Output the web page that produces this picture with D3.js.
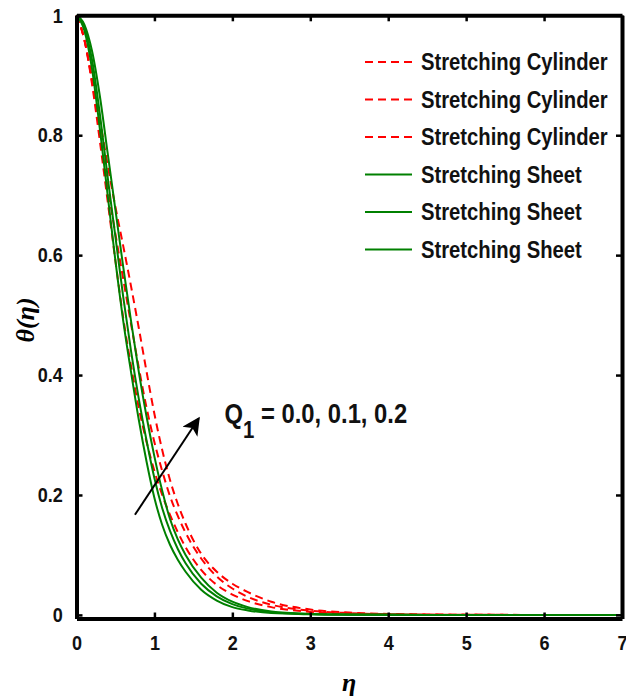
<!DOCTYPE html>
<html>
<head>
<meta charset="utf-8">
<script src="https://cdn.jsdelivr.net/npm/d3@7"></script>
<style>
  body { margin: 0; background: #fff; }
  svg { display: block; }
  .bold { font-family: 'Liberation Sans', Arial, sans-serif; font-weight: bold; }
  .greek { font-family: 'Liberation Serif', 'DejaVu Serif', serif; font-style: italic; font-weight: bold; }
</style>
</head>
<body>
<svg id="chart"></svg>
<script>
var width = 626, height = 697;

// eta grid shared by all curves
var eta = [0, 0.1, 0.2, 0.3, 0.4, 0.5, 0.6, 0.7, 0.8, 0.9, 1.0, 1.1, 1.2, 1.3, 1.4,
           1.6, 1.8, 2.0, 2.2, 2.5, 3.0, 3.5, 4.0, 5.0, 6.0, 7.0];

// stretching cylinder, Q1 = 0.0, 0.1, 0.2
var cyl1 = [1, 0.96, 0.885, 0.79, 0.69, 0.59, 0.495, 0.415, 0.345, 0.288, 0.24, 0.2, 0.167, 0.138, 0.113,
            0.075, 0.05, 0.034, 0.023, 0.013, 0.005, 0.002, 0.0008, 0.0001, 0, 0];
var cyl2 = [1, 0.96, 0.89, 0.805, 0.715, 0.635, 0.56, 0.485, 0.412, 0.345, 0.288, 0.24, 0.198, 0.165, 0.137,
            0.094, 0.064, 0.044, 0.03, 0.017, 0.007, 0.003, 0.0012, 0.0002, 0, 0];
var cyl3 = [1, 0.96, 0.895, 0.825, 0.75, 0.68, 0.615, 0.548, 0.478, 0.405, 0.335, 0.275, 0.225, 0.185, 0.152,
            0.102, 0.072, 0.052, 0.038, 0.022, 0.009, 0.004, 0.0017, 0.0003, 0, 0];

// stretching sheet, Q1 = 0.0, 0.1, 0.2
var sheet1 = [1, 0.975, 0.91, 0.81, 0.70, 0.59, 0.49, 0.405, 0.325, 0.255, 0.195, 0.15, 0.117, 0.092, 0.072,
              0.042, 0.024, 0.013, 0.0075, 0.003, 0.001, 0.0003, 0.0001, 0, 0, 0];
var sheet2 = [1, 0.98, 0.925, 0.835, 0.73, 0.63, 0.53, 0.44, 0.36, 0.29, 0.228, 0.178, 0.14, 0.11, 0.086,
              0.052, 0.031, 0.018, 0.0105, 0.0045, 0.0013, 0.0004, 0.0001, 0, 0, 0];
var sheet3 = [1, 0.985, 0.94, 0.865, 0.77, 0.675, 0.58, 0.49, 0.405, 0.33, 0.264, 0.207, 0.16, 0.126, 0.1,
              0.062, 0.037, 0.022, 0.013, 0.0058, 0.0017, 0.0005, 0.00015, 0, 0, 0];

var xTicks = [0, 1, 2, 3, 4, 5, 6, 7];
var yTicks = [0, 0.2, 0.4, 0.6, 0.8, 1];
var legendNames = ["Stretching Cylinder", "Stretching Cylinder", "Stretching Cylinder",
                   "Stretching Sheet", "Stretching Sheet", "Stretching Sheet"];

// arrow in data coords (tail, head) and label position
var arrowFrom = [0.75, 0.167], arrowTo = [1.57, 0.328];
var noteAt = [1.9, 0.32];

var series = [
  {vals: cyl1, color: "#ff0000", dash: "8,5"},
  {vals: cyl2, color: "#ff0000", dash: "8,5"},
  {vals: cyl3, color: "#ff0000", dash: "8,5"},
  {vals: sheet1, color: "#008000", dash: null},
  {vals: sheet2, color: "#008000", dash: null},
  {vals: sheet3, color: "#008000", dash: null}
];

// no narrow font installed, so squeeze the bold text sideways
var narrow = 0.86;

var svg = d3.select("#chart").attr("width", width).attr("height", height);

var x = d3.scaleLinear().domain([0, 7]).range([76.5, 622]);
var y = d3.scaleLinear().domain([-0.006, 1]).range([618.5, 15.3]);

var line = d3.line()
    .x(function (d) { return x(d[0]); })
    .y(function (d) { return y(d[1]); })
    .curve(d3.curveMonotoneX);

// curves
svg.append("g").selectAll("path")
    .data(series)
    .enter().append("path")
    .attr("d", function (s) {
        return line(eta.map(function (e, i) { return [e, s.vals[i]]; }));
    })
    .attr("fill", "none")
    .attr("stroke", function (s) { return s.color; })
    .attr("stroke-width", 2)
    .attr("stroke-dasharray", function (s) { return s.dash; });

// axes (box with inward ticks)
function styleAxis(g) {
    g.select(".domain").attr("stroke", "#000").attr("stroke-width", 4);
    g.selectAll(".tick line").attr("stroke", "#000").attr("stroke-width", 2.5);
    g.selectAll(".tick text")
        .attr("class", "bold")
        .attr("fill", "#111")
        .attr("transform", "scale(" + narrow + ",1)")
        .style("font-size", "21px");
}
svg.append("g")
    .attr("transform", "translate(0," + y.range()[0] + ")")
    .call(d3.axisBottom(x).tickValues(xTicks).tickSizeInner(-6).tickSizeOuter(0).tickPadding(17)
          .tickFormat(d3.format("d")))
    .call(styleAxis);
svg.append("g")
    .attr("transform", "translate(" + x.range()[0] + ",0)")
    .call(d3.axisLeft(y).tickValues(yTicks).tickSizeInner(-6).tickSizeOuter(0).tickPadding(16)
          .tickFormat(function (d) { return d === 0 || d === 1 ? d : d.toFixed(1); }))
    .call(styleAxis);
svg.append("g")
    .attr("transform", "translate(0," + y.range()[1] + ")")
    .call(d3.axisTop(x).tickValues(xTicks).tickSizeInner(-6).tickSizeOuter(0).tickFormat(""))
    .call(styleAxis);
svg.append("g")
    .attr("transform", "translate(" + x.range()[1] + ",0)")
    .call(d3.axisRight(y).tickValues(yTicks).tickSizeInner(-6).tickSizeOuter(0).tickFormat(""))
    .call(styleAxis);

// axis labels
svg.append("text")
    .attr("class", "greek")
    .attr("x", (x.range()[0] + x.range()[1]) / 2)
    .attr("y", 691)
    .attr("text-anchor", "middle")
    .style("font-size", "26px")
    .text("η");
svg.append("text")
    .attr("class", "greek")
    .attr("transform", "translate(34,320) rotate(-90)")
    .attr("text-anchor", "middle")
    .style("font-size", "26px")
    .text("θ(η)");

// legend
var legend = svg.append("g").selectAll("g")
    .data(series)
    .enter().append("g")
    .attr("transform", function (d, i) { return "translate(365," + (62 + i * 37.5) + ")"; });
legend.append("line")
    .attr("x1", 0).attr("x2", 47)
    .attr("stroke", function (s) { return s.color; })
    .attr("stroke-width", 2)
    .attr("stroke-dasharray", function (s) { return s.dash; });
legend.append("text")
    .attr("class", "bold")
    .attr("transform", "translate(56,0) scale(0.88,1)")
    .attr("dy", "0.36em")
    .style("font-size", "23px")
    .attr("fill", "#111")
    .text(function (d, i) { return legendNames[i]; });

// arrow + annotation
svg.append("defs").append("marker")
    .attr("id", "head")
    .attr("viewBox", "0 0 10 10")
    .attr("refX", 9).attr("refY", 5)
    .attr("markerWidth", 11).attr("markerHeight", 9)
    .attr("markerUnits", "strokeWidth")
    .attr("orient", "auto")
    .append("path")
    .attr("d", "M0,0 L10,5 L0,10 L2.5,5 Z")
    .attr("fill", "#000");
svg.append("line")
    .attr("x1", x(arrowFrom[0])).attr("y1", y(arrowFrom[1]))
    .attr("x2", x(arrowTo[0])).attr("y2", y(arrowTo[1]))
    .attr("stroke", "#000")
    .attr("stroke-width", 2)
    .attr("marker-end", "url(#head)");

var note = svg.append("text")
    .attr("class", "bold")
    .attr("transform", "translate(" + x(noteAt[0]) + "," + y(noteAt[1]) + ") scale(0.85,1)")
    .style("font-size", "28px")
    .attr("fill", "#111");
note.append("tspan").text("Q");
note.append("tspan").attr("dy", 15).style("font-size", "24px").text("1");
note.append("tspan").attr("dy", -15).text(" = 0.0, 0.1, 0.2");
</script>
</body>
</html>
